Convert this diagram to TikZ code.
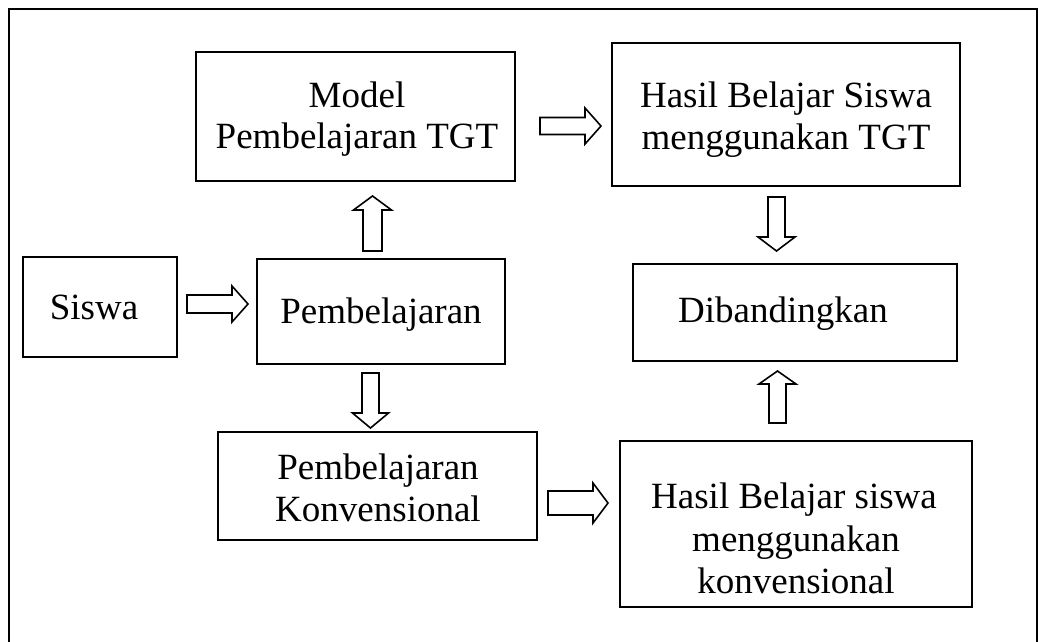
\documentclass[tikz,border=0pt]{standalone}
\usepackage{fontspec}
\setmainfont{Liberation Serif}
\begin{document}
\begin{tikzpicture}[x=1pt,y=-1pt,
  box/.style={draw,line width=2pt,rectangle,inner sep=0pt},
  txt/.style={anchor=base,inner sep=0pt,font=\fontsize{37}{42}\selectfont},
  blk/.style={draw,line width=1.6pt,fill=white,line join=miter}]
\useasboundingbox (0,0) rectangle (1038,641);
% outer frame
\draw[line width=2.4pt] (9,645) -- (9,9) -- (1037,9) -- (1037,645);
% boxes: corners
\newcommand\bx[5]{\node[box,minimum width=#4-#2,minimum height=#5-#3] (#1) at ({(#2+#4)/2},{(#3+#5)/2}) {};}
\bx{model}{196}{52}{515}{181}
\bx{hasiltgt}{612}{43}{960}{186}
\bx{siswa}{23}{257}{177}{357}
\bx{pemb}{257}{259}{505}{364}
\bx{dib}{633}{264}{957}{361}
\bx{konv}{218}{432}{537}{540}
\bx{hasilkonv}{620}{441}{972}{607}
% texts
\node[txt] (t1) at (357,107) {Model};
\node[txt] (t2) at (357,148) {Pembelajaran TGT};
\node[txt] (t3) at (786,107) {Hasil Belajar Siswa};
\node[txt] (t4) at (786,149) {menggunakan TGT};
\node[txt] (t5) at (94,319) {Siswa};
\node[txt] (t6) at (381,323) {Pembelajaran};
\node[txt] (t7) at (783,322) {Dibandingkan};
\node[txt] (t8) at (378,479) {Pembelajaran};
\node[txt] (t9) at (378,521) {Konvensional};
\node[txt] (t10) at (794,508) {Hasil Belajar siswa};
\node[txt] (t11) at (796,551) {menggunakan};
\node[txt] (t12) at (796,593) {konvensional};
% block arrows
\newcommand\rarr[6]{\draw[blk] (#1,#4-#5) -- (#2,#4-#5) -- (#2,#4-#6) -- (#3,#4) -- (#2,#4+#6) -- (#2,#4+#5) -- (#1,#4+#5) -- cycle;}
\newcommand\varr[6]{\draw[blk] (#1-#5,#2) -- (#1-#5,#3) -- (#1-#6,#3) -- (#1,#4) -- (#1+#6,#3) -- (#1+#5,#3) -- (#1+#5,#2) -- cycle;}
\rarr{540}{585}{601}{126}{8.5}{18}
\rarr{187}{232}{248}{304}{9}{18}
\rarr{548}{593}{608}{503}{12}{20}
\varr{372.5}{251}{210}{196}{9.5}{19}
\varr{777.5}{423}{384}{371}{8.5}{18.5}
\varr{776.5}{197}{237}{251}{8.5}{18.5}
\varr{370.5}{373}{413}{428}{8.5}{18}
\end{tikzpicture}
\end{document}
